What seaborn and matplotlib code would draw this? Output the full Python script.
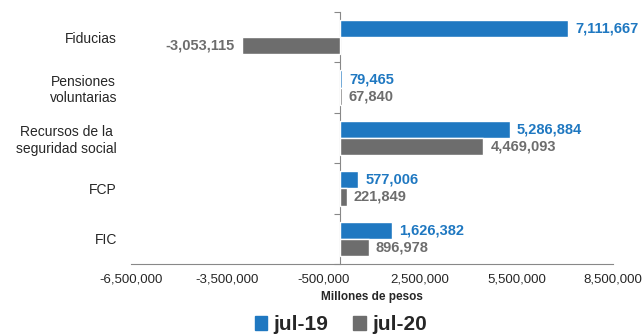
import matplotlib
matplotlib.use("Agg")
import matplotlib.pyplot as plt
import matplotlib.ticker as mticker
import pandas as pd
import seaborn as sns

categories = ["Fiducias", "Pensiones\nvoluntarias", "Recursos de la\nseguridad social", "FCP", "FIC"]
periods = ["jul-19", "jul-20"]
jul19 = [7111667, 79465, 5286884, 577006, 1626382]
jul20 = [-3053115, 67840, 4469093, 221849, 896978]
xticks = [-6500000, -3500000, -500000, 2500000, 5500000, 8500000]

colors = {"jul-19": "#1f78c1", "jul-20": "#6d6d6d"}

df = pd.DataFrame({
    "Categoria": categories * 2,
    "Periodo": [periods[0]] * len(categories) + [periods[1]] * len(categories),
    "Valor": jul19 + jul20,
})

sns.set_style("white")
plt.rcParams["font.family"] = ["Liberation Sans", "DejaVu Sans"]

fig = plt.figure(figsize=(6.43, 3.35), dpi=100)
ax = fig.add_axes([131 / 643, 1 - 264 / 335, 482 / 643, 252 / 335])

sns.barplot(data=df, x="Valor", y="Categoria", hue="Periodo", orient="h",
            palette=colors, width=0.68, ax=ax, legend=True, saturation=1)

ax.set_xlim(xticks[0], xticks[-1])
ax.set_xticks(xticks)
ax.xaxis.set_major_formatter(mticker.FuncFormatter(lambda v, p: f"{int(v):,}"))
ax.set_ylim(len(categories) - 0.5, -0.5)

for s in ["top", "right", "left"]:
    ax.spines[s].set_visible(False)
ax.spines["bottom"].set_color("#888888")
ax.tick_params(axis="x", direction="out", length=4, color="#888888", labelsize=9.5, pad=3)
ax.tick_params(axis="y", length=0, pad=10, labelsize=10)
for lbl in ax.get_yticklabels():
    lbl.set_multialignment("center")

# vertical axis at zero with category separators
sec = ax.secondary_yaxis((0 - xticks[0]) / (xticks[-1] - xticks[0]))
sec.set_yticks([i - 0.5 for i in range(len(categories) + 1)])
sec.set_yticklabels([])
sec.tick_params(axis="y", direction="out", length=4, color="#888888")
sec.spines["left"].set_color("#888888")
sec.spines["right"].set_visible(False)

ax.set_xlabel("Millones de pesos", fontsize=8.5, fontweight="bold", labelpad=4)
ax.set_ylabel("")

for cont, per in zip(ax.containers, periods):
    labels = [f"{int(v):,}" for v in cont.datavalues]
    ax.bar_label(cont, labels=labels, padding=5, fontsize=10.5, fontweight="bold",
                 color=colors[per])

ax.legend_.remove()
handles = [plt.Rectangle((0, 0), 1, 1, color=colors[p]) for p in periods]
fig.legend(handles, periods, loc="center", bbox_to_anchor=(0.53, 0.03), ncol=2,
           frameon=False, prop={"weight": "bold", "size": 15},
           handlelength=0.6, handleheight=0.6, handletextpad=0.3, columnspacing=1.2,
           borderaxespad=0, borderpad=0)

fig.savefig("out.png", dpi=100)
plt.close(fig)
